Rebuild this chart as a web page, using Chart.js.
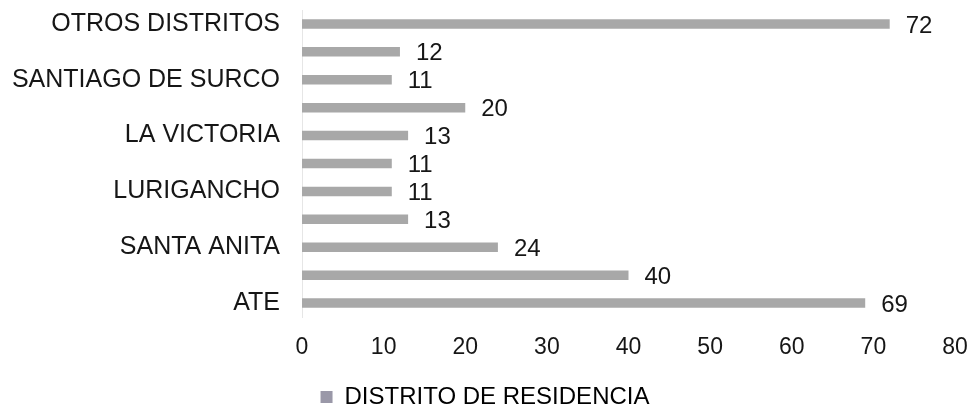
<!DOCTYPE html>
<html>
<head>
<meta charset="utf-8">
<script src="https://cdn.jsdelivr.net/npm/chart.js@4/dist/chart.umd.min.js"></script>
<style>
  html, body { margin: 0; padding: 0; background: #fff; }
  #wrap { width: 970px; height: 407px; }
</style>
</head>
<body>
<div id="wrap"><canvas id="chart"></canvas></div>
<script>
// Districts, top to bottom (only every other name is printed in the original)
const categories = ['OTROS DISTRITOS', '', 'SANTIAGO DE SURCO', '', 'LA VICTORIA', '',
  'LURIGANCHO', '', 'SANTA ANITA', '', 'ATE'];
const residencia = [72, 12, 11, 20, 13, 11, 11, 13, 24, 40, 69];
const xTicks = [0, 10, 20, 30, 40, 50, 60, 70, 80];
const seriesName = 'DISTRITO DE RESIDENCIA';

const FONT = "'Liberation Sans', Arial, sans-serif";

// Value labels at the end of each bar
const barValues = {
  id: 'barValues',
  afterDatasetsDraw(chart) {
    const ctx = chart.ctx;
    const meta = chart.getDatasetMeta(0);
    ctx.save();
    ctx.font = '24px ' + FONT;
    ctx.fillStyle = '#161616';
    ctx.textAlign = 'left';
    ctx.textBaseline = 'middle';
    meta.data.forEach((bar, i) => {
      ctx.fillText(String(residencia[i]), bar.x + 16, bar.y + 2);
    });
    ctx.restore();
  }
};

new Chart(document.getElementById('chart'), {
  type: 'bar',
  data: {
    labels: categories,
    datasets: [{
      label: seriesName,
      data: residencia,
      backgroundColor: '#a8a8a8',
      borderWidth: 0,
      barPercentage: 0.34,
      categoryPercentage: 1,
    }],
  },
  options: {
    indexAxis: 'y',
    responsive: true,
    maintainAspectRatio: false,
    animation: false,
    layout: { padding: { top: 10, right: 0, left: 0, bottom: -12 } },
    scales: {
      x: {
        min: 0,
        max: 80,
        afterBuildTicks: (scale) => { scale.ticks = xTicks.map(v => ({ value: v })); },
        afterFit: (scale) => {
          scale.height = 66;
          scale.paddingRight = 15;
        },
        grid: { display: false, drawTicks: false },
        border: { display: false },
        ticks: {
          font: { size: 23, family: FONT },
          color: '#161616',
          padding: 17,
          maxRotation: 0,
        },
      },
      y: {
        afterFit: (scale) => {
          scale.width = 302;
          scale.paddingTop = 0;
          scale.paddingBottom = 0;
        },
        grid: { display: false, drawTicks: false },
        border: { display: true, color: '#e6e6e6', width: 1 },
        ticks: {
          autoSkip: false,
          font: { size: 25, family: FONT },
          color: '#161616',
          padding: 22,
        },
      },
    },
    plugins: {
      legend: {
        position: 'bottom',
        labels: {
          font: { size: 24, family: FONT },
          color: '#161616',
          boxWidth: 12,
          boxHeight: 12,
          padding: 2,
          generateLabels: () => [{
            text: seriesName,
            fillStyle: '#9a98a8',
            strokeStyle: '#9a98a8',
            lineWidth: 0,
            datasetIndex: 0,
          }],
        },
      },
      tooltip: { enabled: false },
    },
  },
  plugins: [barValues],
});
</script>
</body>
</html>
